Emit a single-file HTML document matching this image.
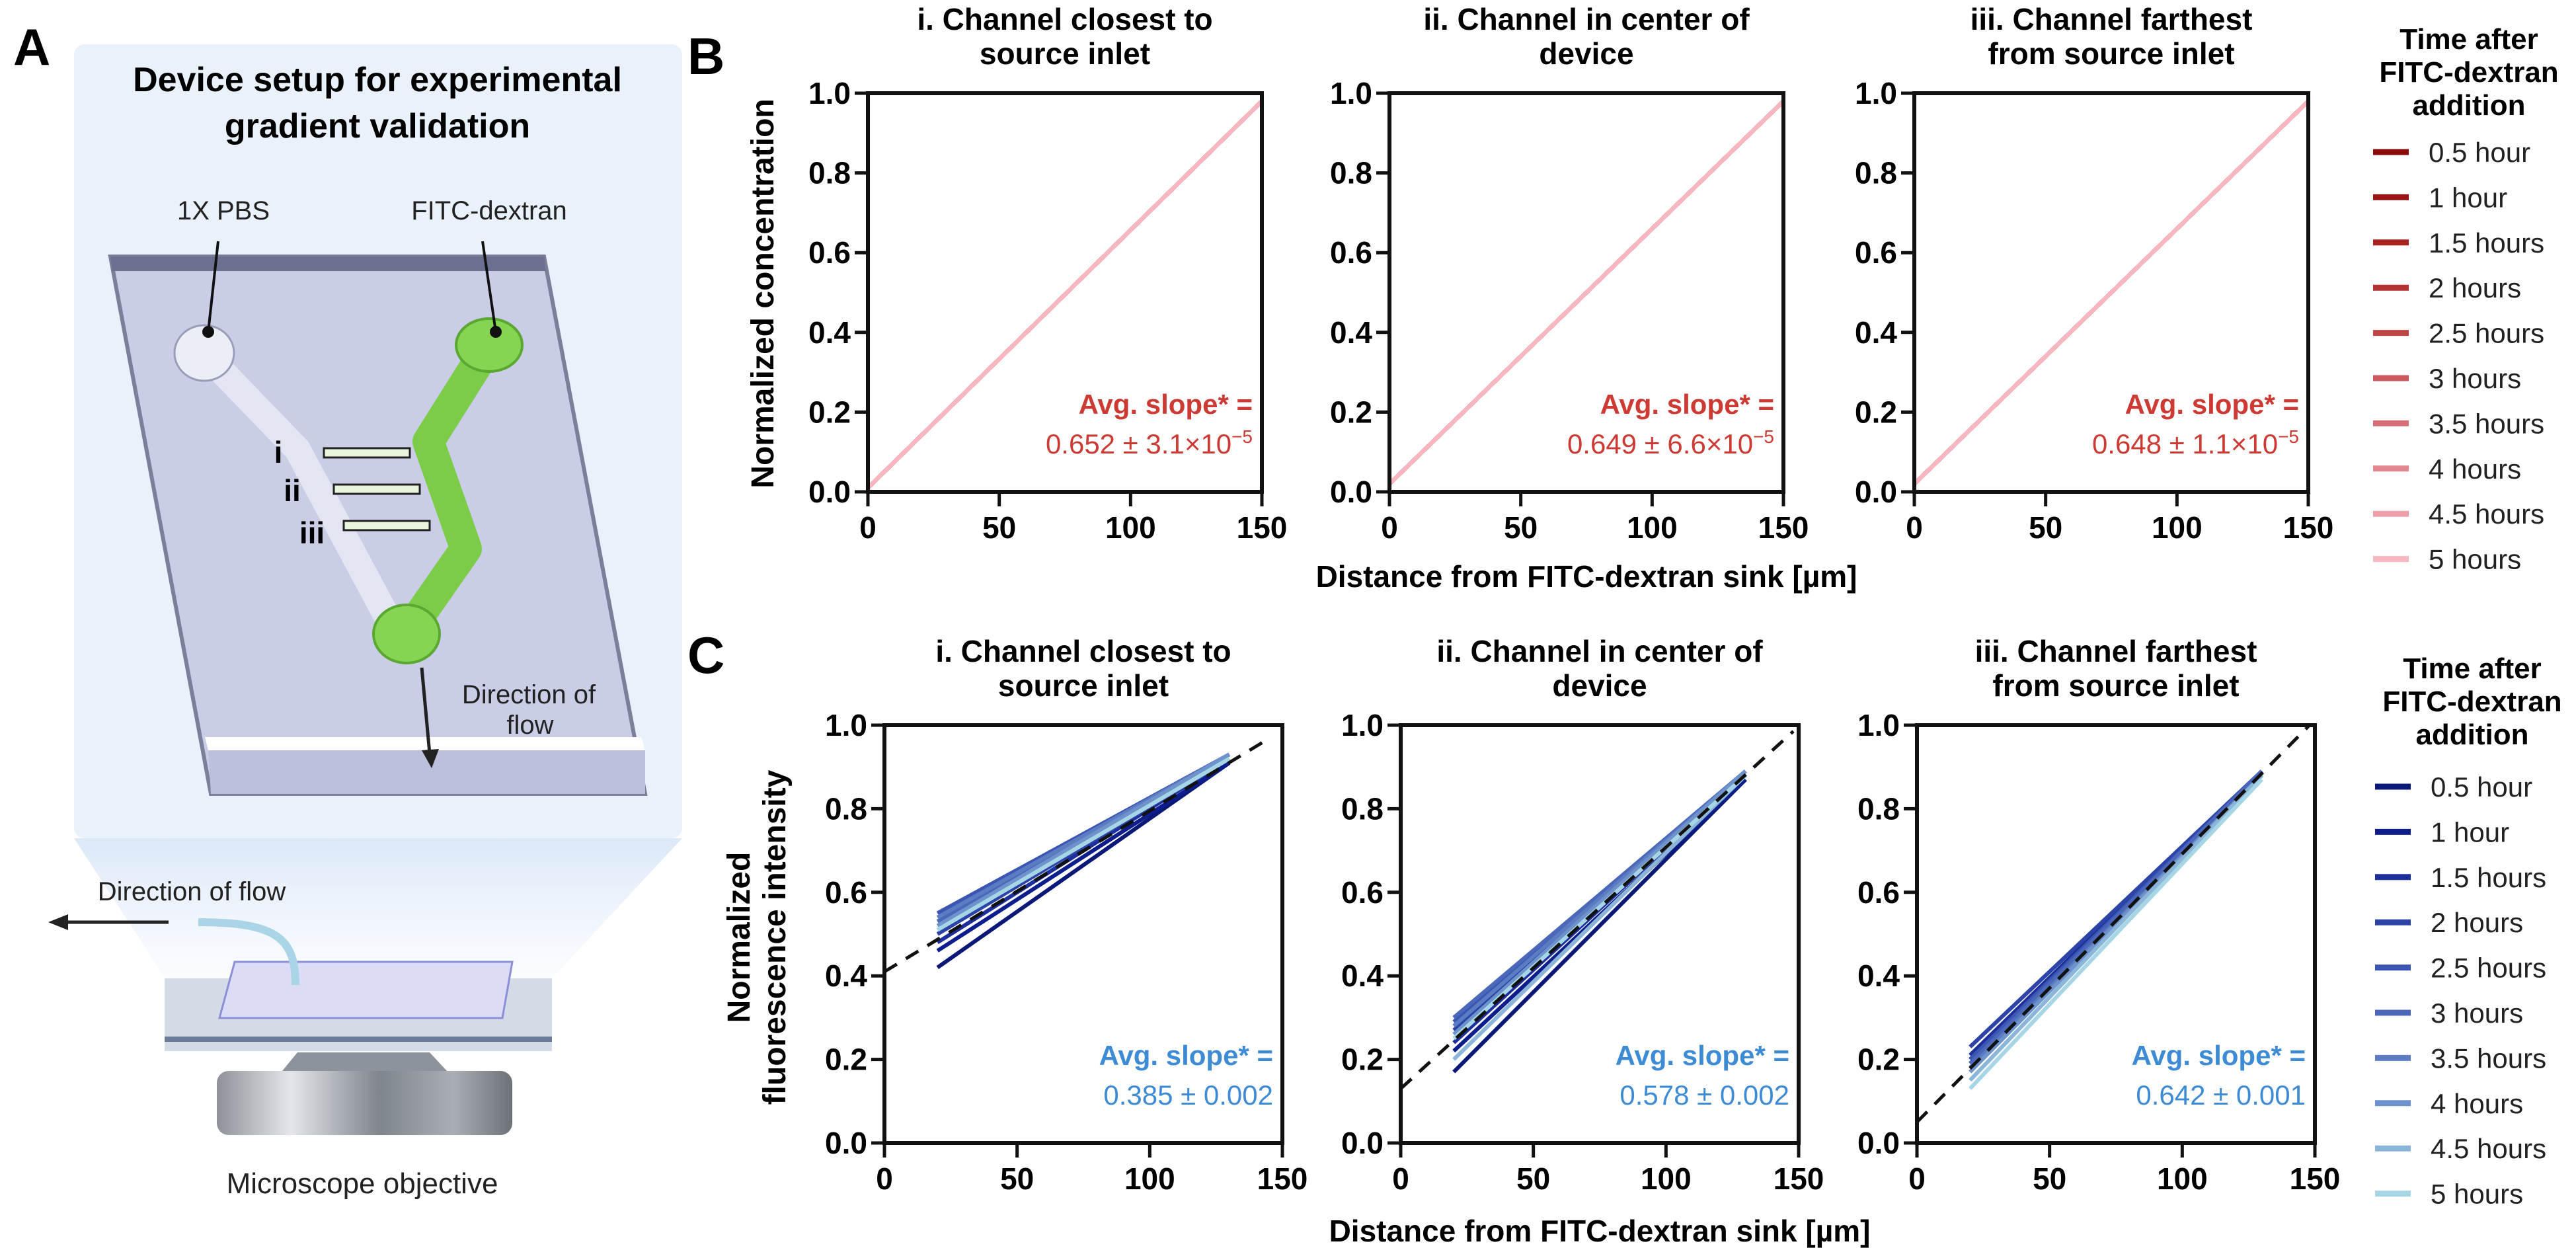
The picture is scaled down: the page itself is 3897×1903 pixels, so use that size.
<!DOCTYPE html>
<html><head><meta charset="utf-8"><style>
html,body{margin:0;padding:0;background:#fff;}
svg{display:block;}
text{font-family:"Liberation Sans",Arial,sans-serif;}
</style></head><body>
<svg id="fig" width="3897" height="1903" viewBox="0 0 3897 1903" xmlns="http://www.w3.org/2000/svg">
<defs>
<linearGradient id="beam" x1="0" y1="0" x2="0" y2="1"><stop offset="0" stop-color="#dbe8f8"/><stop offset="1" stop-color="#eef4fc" stop-opacity="0.3"/></linearGradient>
<linearGradient id="obj" x1="0" y1="0" x2="1" y2="0"><stop offset="0" stop-color="#8e9298"/><stop offset="0.25" stop-color="#e4e6ea"/><stop offset="0.55" stop-color="#7f858c"/><stop offset="0.8" stop-color="#a9aeb4"/><stop offset="1" stop-color="#6d7278"/></linearGradient>
</defs>
<!-- Panel A -->
<g>
<text x="20" y="98" font-size="78" font-weight="bold">A</text>
<polygon points="112,1268 1032,1268 835,1480 250,1480" fill="url(#beam)"/>
<rect x="112" y="67" width="920" height="1201" rx="16" fill="#e9f1fb"/>
<text x="571" y="138" font-size="52" font-weight="bold" text-anchor="middle">Device setup for experimental</text>
<text x="571" y="208" font-size="52" font-weight="bold" text-anchor="middle">gradient validation</text>
<polygon points="167,388 823,388 976,1201 319,1201" fill="#c9cde6" stroke="#7c7f99" stroke-width="6"/>
<polygon points="167,388 823,388 826,410 170,410" fill="#6c7090"/>
<polygon points="310,1115 970,1115 976,1135 315,1135" fill="#ffffff"/>
<polygon points="315,1135 976,1135 976,1201 319,1201" fill="#bcc0dd"/>
<polyline points="309,534 450,680 600,960" fill="none" stroke="#e4e5f2" stroke-width="40" stroke-linejoin="round"/>
<ellipse cx="309" cy="534" rx="45" ry="42" fill="#eceef6" stroke="#9a9db8" stroke-width="3"/>
<rect x="490" y="678" width="130" height="14" fill="#e8f5df" stroke="#222" stroke-width="3"/>
<rect x="505" y="733" width="130" height="14" fill="#e8f5df" stroke="#222" stroke-width="3"/>
<rect x="520" y="788" width="130" height="14" fill="#e8f5df" stroke="#222" stroke-width="3"/>
<polyline points="740,522 648,668 705,830 615,959" fill="none" stroke="#7ccc4a" stroke-width="48" stroke-linejoin="round"/>
<ellipse cx="740" cy="522" rx="50" ry="40" fill="#86d552" stroke="#5aa832" stroke-width="4"/>
<ellipse cx="615" cy="959" rx="50" ry="44" fill="#86d552" stroke="#5aa832" stroke-width="4"/>
<circle cx="315" cy="502" r="9" fill="#111"/>
<line x1="315" y1="502" x2="330" y2="365" stroke="#111" stroke-width="4"/>
<circle cx="750" cy="502" r="9" fill="#111"/>
<line x1="750" y1="502" x2="730" y2="365" stroke="#111" stroke-width="4"/>
<text x="338" y="332" font-size="40" text-anchor="middle" fill="#222">1X PBS</text>
<text x="740" y="332" font-size="40" text-anchor="middle" fill="#222">FITC-dextran</text>
<text x="421" y="700" font-size="46" font-weight="bold" text-anchor="middle">i</text>
<text x="442" y="758" font-size="46" font-weight="bold" text-anchor="middle">ii</text>
<text x="472" y="822" font-size="46" font-weight="bold" text-anchor="middle">iii</text>
<text x="800" y="1064" font-size="40" text-anchor="middle" fill="#222">Direction of</text>
<text x="802" y="1110" font-size="40" text-anchor="middle" fill="#222">flow</text>
<line x1="638" y1="1010" x2="650" y2="1140" stroke="#222" stroke-width="5"/>
<polygon points="638,1135 664,1133 653,1162" fill="#222"/>
<text x="290" y="1362" font-size="40" text-anchor="middle" fill="#222">Direction of flow</text>
<line x1="255" y1="1395" x2="100" y2="1395" stroke="#222" stroke-width="5"/>
<polygon points="73,1395 103,1383 103,1407" fill="#222"/>
<rect x="249" y="1480" width="586" height="110" fill="#d3dbe6"/>
<rect x="249" y="1568" width="586" height="8" fill="#6a7c96"/>
<polygon points="355,1455 775,1455 760,1540 332,1540" fill="#dcdcf6" stroke="#8a8fd8" stroke-width="3"/>
<path d="M447,1490 C447,1420 420,1395 300,1395" fill="none" stroke="#a9d5e6" stroke-width="12"/>
<polygon points="427,1620 676,1620 650,1592 450,1592" fill="#8c939c"/>
<rect x="328" y="1620" width="447" height="97" rx="18" fill="url(#obj)"/>
<text x="548" y="1805" font-size="44" text-anchor="middle" fill="#222">Microscope objective</text>
</g>
<text x="1040" y="112" font-size="78" font-weight="bold">B</text>
<text x="1040" y="1018" font-size="78" font-weight="bold">C</text>
<g id="charts"></g>
</svg>
<script>
// ---- data ----
const timeLabels = ["0.5 hour","1 hour","1.5 hours","2 hours","2.5 hours","3 hours","3.5 hours","4 hours","4.5 hours","5 hours"];
const redColors = ["#8b0a0a","#9a1414","#a82222","#b43232","#bf4646","#ca5a5e","#d67076","#e2868e","#eea0aa","#f7b6c0"];
const blueColors = ["#0a1878","#0d1e8c","#1c2f9c","#2c43a8","#3a55b2","#4a67ba","#5b7cc2","#6e92cb","#8cb6d9","#a6d6e6"];
const xTicks = [0,50,100,150];
const yTicks = [0,0.2,0.4,0.6,0.8,1.0];
const yTickLabels = ["0.0","0.2","0.4","0.6","0.8","1.0"];
// B: simulated normalized concentration lines, x from 0 to 150
const bTitles = [["i. Channel closest to","source inlet"],["ii. Channel in center of","device"],["iii. Channel farthest","from source inlet"]];
const bXStart = 0, bXEnd = 150;
const bStart1 = [0.01,0.01,0.01,0.01,0.01,0.01,0.01,0.01,0.01,0.01];
const bEnd1 = [0.98,0.98,0.98,0.98,0.98,0.98,0.98,0.98,0.98,0.98];
const bStart2 = [0.02,0.02,0.02,0.02,0.02,0.02,0.02,0.02,0.02,0.02];
const bEnd2 = [0.98,0.98,0.98,0.98,0.98,0.98,0.98,0.98,0.98,0.98];
const bStart3 = [0.02,0.02,0.02,0.02,0.02,0.02,0.02,0.02,0.02,0.02];
const bEnd3 = [0.98,0.98,0.98,0.98,0.98,0.98,0.98,0.98,0.98,0.98];
const bSlopes = ["0.652 ± 3.1×10","0.649 ± 6.6×10","0.648 ± 1.1×10"];
// C: experimental fluorescence lines, x from 20 to 130
const cXStart = 20, cXEnd = 130;
const cTitles = [["i. Channel closest to","source inlet"],["ii. Channel in center of","device"],["iii. Channel farthest","from source inlet"]];
const cStart1 = [0.42,0.46,0.48,0.50,0.55,0.53,0.54,0.52,0.51,0.51];
const cEnd1 = [0.91,0.91,0.92,0.92,0.93,0.93,0.93,0.93,0.92,0.92];
const cStart2 = [0.17,0.22,0.24,0.27,0.29,0.30,0.28,0.26,0.20,0.25];
const cEnd2 = [0.87,0.87,0.88,0.88,0.89,0.89,0.89,0.89,0.88,0.88];
const cStart3 = [0.19,0.20,0.21,0.23,0.20,0.19,0.18,0.17,0.15,0.13];
const cEnd3 = [0.89,0.89,0.89,0.89,0.89,0.89,0.88,0.88,0.88,0.87];
const cFitIntercept = [0.41,0.13,0.05];
const cFitSlope = [0.385,0.578,0.642];
const cFitXEnd = [145,148,148];
const cSlopes = ["0.385 ± 0.002","0.578 ± 0.002","0.642 ± 0.001"];

const NS = "http://www.w3.org/2000/svg";
const root = document.getElementById("charts");
function mk(tag, attrs, parent, txt){
  const e = document.createElementNS(NS, tag);
  for (const k in attrs) e.setAttribute(k, attrs[k]);
  if (txt !== undefined) e.textContent = txt;
  (parent||root).appendChild(e);
  return e;
}
function drawPanel(px, top, w, h, titles, starts, ends, x0, x1, colors, fit, slopeTxt, sup, slopeColor, idx, kind){
  const g = mk("g", {});
  
  
  const sx = v => px + v/150*w;
  const sy = v => top + h - v*h;
  titles.forEach((t,i)=>{
    const e = mk("text",{x:px+w/2, y:top-96+i*52, "font-size":46, "font-weight":"bold", "text-anchor":"middle"}, g, t);
    
    
  });
  // series
  for (let i=0;i<starts.length;i++){
    const l = mk("line",{x1:sx(x0),y1:sy(starts[i]),x2:sx(x1),y2:sy(ends[i]),stroke:colors[i],"stroke-width":6}, g);
    
    
  }
  if (fit){
    const l = mk("line",{x1:sx(0),y1:sy(fit[0]),x2:sx(fit[2]),y2:sy(fit[0]+fit[1]*fit[2]/100),stroke:"#111","stroke-width":5,"stroke-dasharray":"22 16"}, g);
    
    
  }
  // frame
  const f = mk("rect",{x:px,y:top,width:w,height:h,fill:"none",stroke:"#111","stroke-width":6}, g);
  
  
  yTicks.forEach((v,i)=>{
    const t = mk("line",{x1:px-20,y1:sy(v),x2:px,y2:sy(v),stroke:"#111","stroke-width":5}, g);
    
    
    const lb = mk("text",{x:px-26,y:sy(v)+16,"font-size":46,"font-weight":"bold","text-anchor":"end"}, g, yTickLabels[i]);
    
    
  });
  xTicks.forEach(v=>{
    const t = mk("line",{x1:sx(v),y1:top+h,x2:sx(v),y2:top+h+22,stroke:"#111","stroke-width":5}, g);
    
    
    const lb = mk("text",{x:sx(v),y:top+h+70,"font-size":46,"font-weight":"bold","text-anchor":"middle"}, g, String(v));
    
    
  });
  const a1 = mk("text",{x:px+w-14,y:top+h-118,"font-size":42,"font-weight":"bold","text-anchor":"end",fill:slopeColor}, g, "Avg. slope* =");
  
  
  const a2 = mk("text",{x:px+w-14,y:top+h-58,"font-size":42,"text-anchor":"end",fill:slopeColor}, g);
  
  
  a2.appendChild(document.createTextNode(slopeTxt));
  if (sup){ const s = mk("tspan",{dy:-16,"font-size":28}, a2, sup); }
}
const bX = [1313,2102,2896], cX = [1338,2119,2900];
const bStarts=[bStart1,bStart2,bStart3], bEnds=[bEnd1,bEnd2,bEnd3];
const cStarts=[cStart1,cStart2,cStart3], cEnds=[cEnd1,cEnd2,cEnd3];
for (let p=0;p<3;p++){
  drawPanel(bX[p],141,596,603,bTitles[p],bStarts[p],bEnds[p],bXStart,bXEnd,redColors,null,bSlopes[p],"−5","#cc3a33",p,"b");
  drawPanel(cX[p],1097,602,632,cTitles[p],cStarts[p],cEnds[p],cXStart,cXEnd,blueColors,[cFitIntercept[p],cFitSlope[p],cFitXEnd[p]],cSlopes[p],null,"#3d8bd4",p,"c");
}
// axis titles
let t;
t = mk("text",{x:2400,y:888,"font-size":46,"font-weight":"bold","text-anchor":"middle"},root,"Distance from FITC-dextran sink [µm]");


t = mk("text",{x:2420,y:1878,"font-size":46,"font-weight":"bold","text-anchor":"middle"},root,"Distance from FITC-dextran sink [µm]");


t = mk("text",{x:0,y:0,"font-size":48,"font-weight":"bold","text-anchor":"middle",transform:"translate(1170,444) rotate(-90)"},root,"Normalized concentration");


t = mk("text",{x:0,y:0,"font-size":48,"font-weight":"bold","text-anchor":"middle",transform:"translate(1134,1418) rotate(-90)"},root,"Normalized");


t = mk("text",{x:0,y:0,"font-size":48,"font-weight":"bold","text-anchor":"middle",transform:"translate(1188,1418) rotate(-90)"},root,"fluorescence intensity");


// legends
function legend(cx, titleY, lx, firstY, colors, kind){
  const g = mk("g",{});
  
  
  ["Time after","FITC-dextran","addition"].forEach((s,i)=>{
    const e = mk("text",{x:cx,y:titleY+i*50,"font-size":44,"font-weight":"bold","text-anchor":"middle"},g,s);
    
    
  });
  timeLabels.forEach((s,i)=>{
    const y = firstY + i*68.4;
    const l = mk("line",{x1:lx,y1:y,x2:lx+54,y2:y,stroke:colors[i],"stroke-width":9},g);
    
    
    const e = mk("text",{x:lx+84,y:y+15,"font-size":42,fill:"#222"},g,s);
    
    
  });
}
legend(3735,74,3590,230,redColors,"b");
legend(3740,1026,3593,1190,blueColors,"c");
</script>
</body></html>
